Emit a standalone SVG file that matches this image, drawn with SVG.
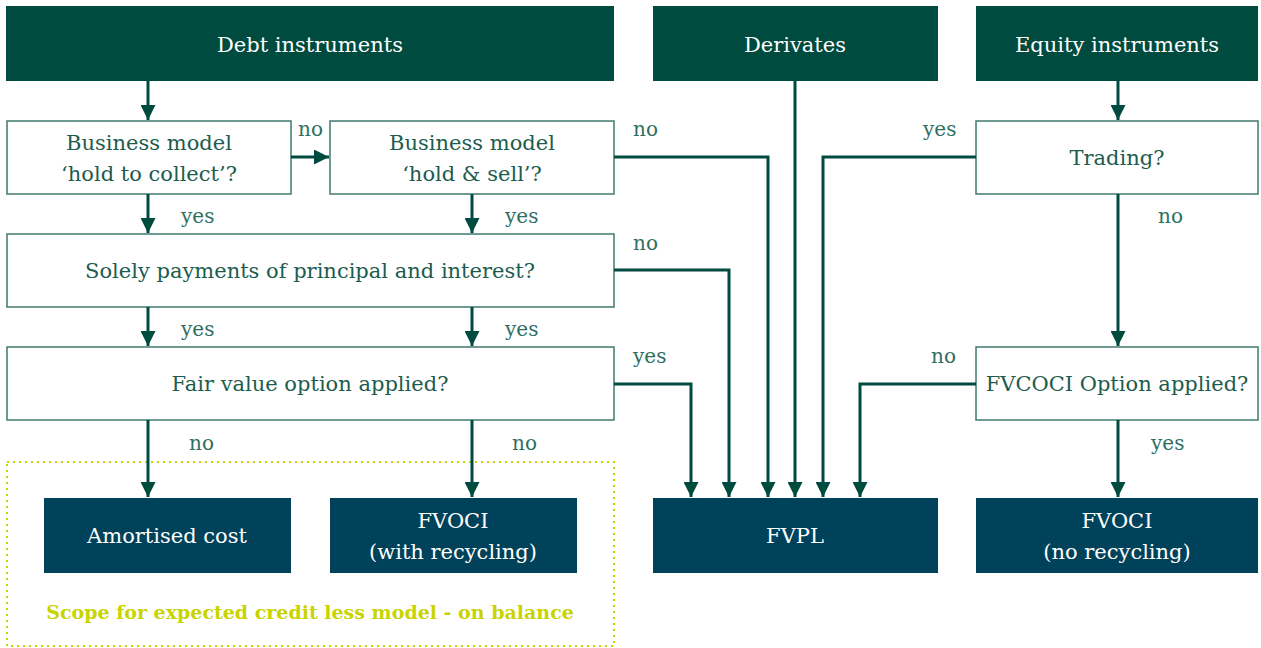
<svg xmlns="http://www.w3.org/2000/svg" width="1261" height="648" viewBox="0 0 1261 648">
<style>
.hdr{fill:#004b3f}
.res{fill:#00425a}
.q{fill:#fff;stroke:#3f7a6e;stroke-width:1.5}
text{font-family:"DejaVu Serif","Liberation Serif",serif;font-size:21px;text-anchor:middle}
.wt{fill:#fff}
.gt{fill:#1d5c4e}
.lb{fill:#2f6f61;text-anchor:start;font-size:20px}
.c{fill:none;stroke:#004b3f;stroke-width:3}
.scope{fill:none;stroke:#c8d400;stroke-width:2;stroke-dasharray:2 4}
.st{fill:#c8d400;font-weight:bold;font-size:19px}
</style>
<defs>
<marker id="ah" viewBox="0 0 10 10" refX="10" refY="5" markerWidth="5" markerHeight="5" markerUnits="strokeWidth" orient="auto">
<path d="M0,0 L10,5 L0,10 z" fill="#004b3f"/>
</marker>
</defs>
<rect class="scope" x="7" y="462" width="607" height="184"/>
<text class="st" x="310" y="619">Scope for expected credit less model - on balance</text>
<g id="debt"><rect class="hdr" x="6" y="6" width="608" height="75"/><text class="wt" x="310" y="52">Debt instruments</text></g>
<g id="deriv"><rect class="hdr" x="653" y="6" width="285" height="75"/><text class="wt" x="795" y="52">Derivates</text></g>
<g id="equity"><rect class="hdr" x="976" y="6" width="282" height="75"/><text class="wt" x="1117" y="52">Equity instruments</text></g>
<g id="bm1"><rect class="q" x="7" y="121" width="284" height="73"/><text class="gt" x="149" y="150">Business model</text><text class="gt" x="149" y="181">‘hold to collect’?</text></g>
<g id="bm2"><rect class="q" x="330" y="121" width="284" height="73"/><text class="gt" x="472" y="150">Business model</text><text class="gt" x="472" y="181">‘hold &amp; sell’?</text></g>
<g id="sppi"><rect class="q" x="7" y="234" width="607" height="73"/><text class="gt" x="310" y="278">Solely payments of principal and interest?</text></g>
<g id="fvo"><rect class="q" x="7" y="347" width="607" height="73"/><text class="gt" x="310" y="391">Fair value option applied?</text></g>
<g id="trading"><rect class="q" x="976" y="121" width="282" height="73"/><text class="gt" x="1117" y="165">Trading?</text></g>
<g id="fvcoci"><rect class="q" x="976" y="347" width="282" height="73"/><text class="gt" x="1117" y="391">FVCOCI Option applied?</text></g>
<g id="amort"><rect class="res" x="44" y="498" width="247" height="75"/><text class="wt" x="167" y="543">Amortised cost</text></g>
<g id="fvoci1"><rect class="res" x="330" y="498" width="247" height="75"/><text class="wt" x="453" y="528">FVOCI</text><text class="wt" x="453" y="559">(with recycling)</text></g>
<g id="fvpl"><rect class="res" x="653" y="498" width="285" height="75"/><text class="wt" x="795" y="543">FVPL</text></g>
<g id="fvoci2"><rect class="res" x="976" y="498" width="282" height="75"/><text class="wt" x="1117" y="528">FVOCI</text><text class="wt" x="1117" y="559">(no recycling)</text></g>
<g id="connectors">
<path class="c" marker-end="url(#ah)" d="M148,81 V120"/>
<path class="c" marker-end="url(#ah)" d="M291,157 H329"/>
<path class="c" marker-end="url(#ah)" d="M148,194 V233"/>
<path class="c" marker-end="url(#ah)" d="M472,194 V233"/>
<path class="c" marker-end="url(#ah)" d="M614,157 H768 V497"/>
<path class="c" marker-end="url(#ah)" d="M614,270 H729 V497"/>
<path class="c" marker-end="url(#ah)" d="M148,307 V346"/>
<path class="c" marker-end="url(#ah)" d="M472,307 V346"/>
<path class="c" marker-end="url(#ah)" d="M614,384 H691 V497"/>
<path class="c" marker-end="url(#ah)" d="M148,420 V497"/>
<path class="c" marker-end="url(#ah)" d="M472,420 V497"/>
<path class="c" marker-end="url(#ah)" d="M795,81 V497"/>
<path class="c" marker-end="url(#ah)" d="M976,157 H823 V497"/>
<path class="c" marker-end="url(#ah)" d="M1118,81 V120"/>
<path class="c" marker-end="url(#ah)" d="M1118,194 V346"/>
<path class="c" marker-end="url(#ah)" d="M976,384 H860 V497"/>
<path class="c" marker-end="url(#ah)" d="M1118,420 V497"/>
<text class="lb" x="298" y="136">no</text>
<text class="lb" x="181" y="223">yes</text>
<text class="lb" x="505" y="223">yes</text>
<text class="lb" x="633" y="136">no</text>
<text class="lb" x="633" y="250">no</text>
<text class="lb" x="181" y="336">yes</text>
<text class="lb" x="505" y="336">yes</text>
<text class="lb" x="633" y="363">yes</text>
<text class="lb" x="189" y="450">no</text>
<text class="lb" x="512" y="450">no</text>
<text class="lb" x="923" y="136">yes</text>
<text class="lb" x="1158" y="223">no</text>
<text class="lb" x="931" y="363">no</text>
<text class="lb" x="1151" y="450">yes</text>
</g>
</svg>
